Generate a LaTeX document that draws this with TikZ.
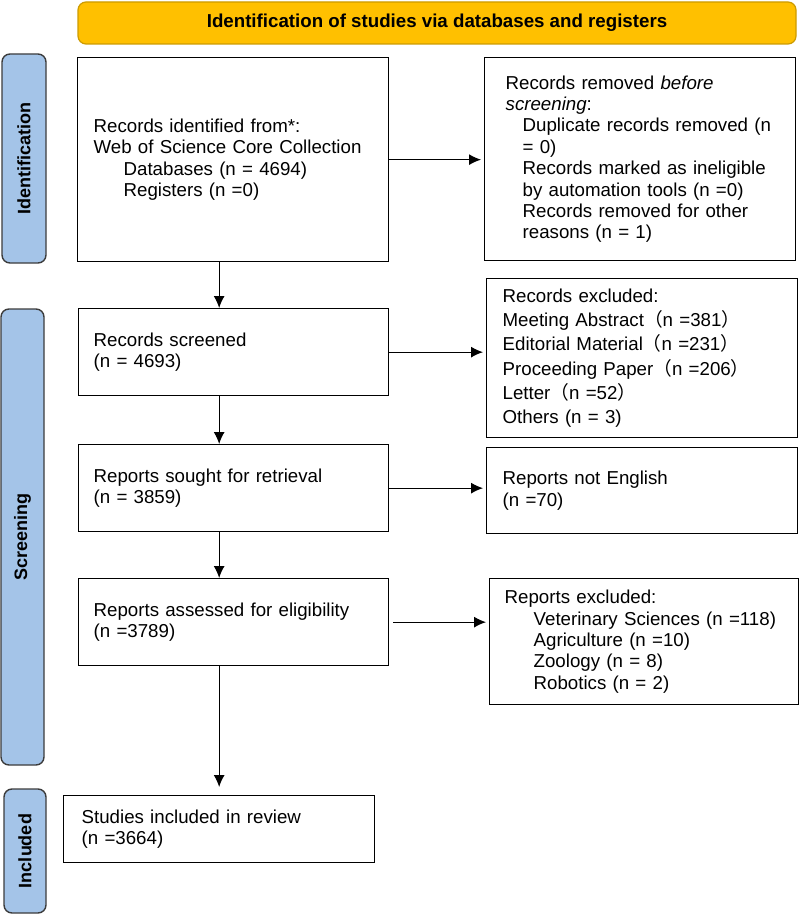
\documentclass[tikz,border=0pt]{standalone}
\usepackage{fontspec}
\setmainfont{Liberation Sans}
\newfontfamily\cjkfont{Noto Sans CJK SC}
\usetikzlibrary{arrows.meta,calc}
\definecolor{BannerClr}{RGB}{255,192,0}
\definecolor{BannerLine}{RGB}{205,155,0}
\definecolor{PhaseClr}{RGB}{164,196,232}
\definecolor{PhaseLine}{RGB}{60,60,60}
\newcommand{\ind}[1][15pt]{\hspace*{#1}}
\newcommand{\lp}{{\cjkfont （}}
\newcommand{\rp}{{\cjkfont ）}}

\begin{document}
\begin{tikzpicture}[x=0.5pt,y=-0.5pt,
  every node/.style={font=\fontsize{9.35}{10.7}\selectfont},
  box/.style={draw,line width=0.65pt,anchor=north west,align=left,inner xsep=8pt,inner ysep=0pt},
  phase/.style={draw=PhaseLine,fill=PhaseClr,line width=0.7pt,rounded corners=4pt,rotate=90,inner sep=0pt,font=\fontsize{9}{10}\selectfont\bfseries},
  flow/.style={->,line width=0.55pt},
  >={Latex[length=6pt,width=5.5pt]}]

\useasboundingbox (0,0) rectangle (799,915);

% banner and phase bars
\node[draw=BannerLine,fill=BannerClr,line width=0.6pt,rounded corners=4pt,minimum width=359pt,minimum height=21pt,font=\fontsize{9.35}{10.7}\selectfont\bfseries] (banner) at (437,23) {Identification of studies via databases and registers};

\node[phase,minimum width=104.5pt,minimum height=22pt] (pid) at (24,158.5) {Identification};
\node[phase,minimum width=228pt,minimum height=21.5pt] (pscr) at (22.5,537) {Screening};
\node[phase,minimum width=62pt,minimum height=21pt] (pinc) at (25,851) {Included};

% left column
\node[box,text width=139.5pt,minimum height=102pt] (ident) at (77,57) {Records identified from*:\\Web of Science Core Collection\\\ind Databases (n = 4694)\\\ind Registers (n =0)};
\node[box,inner xsep=7.5pt,text width=140pt,minimum height=43.5pt] (screened) at (78,308) {Records screened\\(n = 4693)};
\node[box,inner xsep=7.5pt,text width=140pt,minimum height=43.5pt] (sought) at (78,444) {Reports sought for retrieval\\(n = 3859)};
\node[box,inner xsep=7.5pt,text width=140pt,minimum height=43.5pt] (assessed) at (78,578) {Reports assessed for eligibility\\(n =3789)};
\node[box,inner xsep=9pt,text width=137.5pt,minimum height=33.5pt] (incl) at (63,795) {Studies included in review\\(n =3664)};

% right column
\node[box,inner xsep=10.5pt,text width=134.5pt,minimum height=101.5pt] (removed) at (484,57) {Records removed \textit{before}\\\textit{screening}:\\\ind[8.5pt]Duplicate records removed (n\\\ind[8.5pt]= 0)\\\ind[8.5pt]Records marked as ineligible\\\ind[8.5pt]by automation tools (n =0)\\\ind[8.5pt]Records removed for other\\\ind[8.5pt]reasons (n = 1)};
\node[box,text width=139.5pt,minimum height=79.5pt,font=\fontsize{9.35}{12.1}\selectfont] (excl) at (486,278) {Records excluded:\\Meeting Abstract\lp n =381\rp\\Editorial Material\lp n =231\rp\\Proceeding Paper\lp n =206\rp\\Letter\lp n =52\rp\\Others (n = 3)};
\node[box,text width=139.5pt,minimum height=43pt] (noteng) at (486,447) {Reports not English\\(n =70)};
\node[box,inner xsep=7.5pt,text width=139.5pt,minimum height=63pt] (repexcl) at (489,578) {Reports excluded:\\\ind[14.5pt]Veterinary Sciences (n =118)\\\ind[14.5pt]Agriculture (n =10)\\\ind[14.5pt]Zoology (n = 8)\\\ind[14.5pt]Robotics (n = 2)};

% arrows
\draw[flow,shorten >=1.5pt] (ident.east) -- (ident.east -| removed.west);
\draw[flow,shorten >=1.5pt] (screened.east) -- (screened.east -| excl.west);
\draw[flow,shorten >=1.5pt] (sought.east) -- (sought.east -| noteng.west);
\draw[flow,shorten >=1.5pt,shorten <=2pt] (assessed.east) -- (assessed.east -| repexcl.west);

\draw[flow] (ident.south -| incl.north) -- (screened.north -| incl.north);
\draw[flow] (screened.south -| incl.north) -- (sought.north -| incl.north);
\draw[flow] (sought.south -| incl.north) -- (assessed.north -| incl.north);
\draw[flow,shorten >=4pt] (assessed.south -| incl.north) -- (incl.north);

\end{tikzpicture}
\end{document}
